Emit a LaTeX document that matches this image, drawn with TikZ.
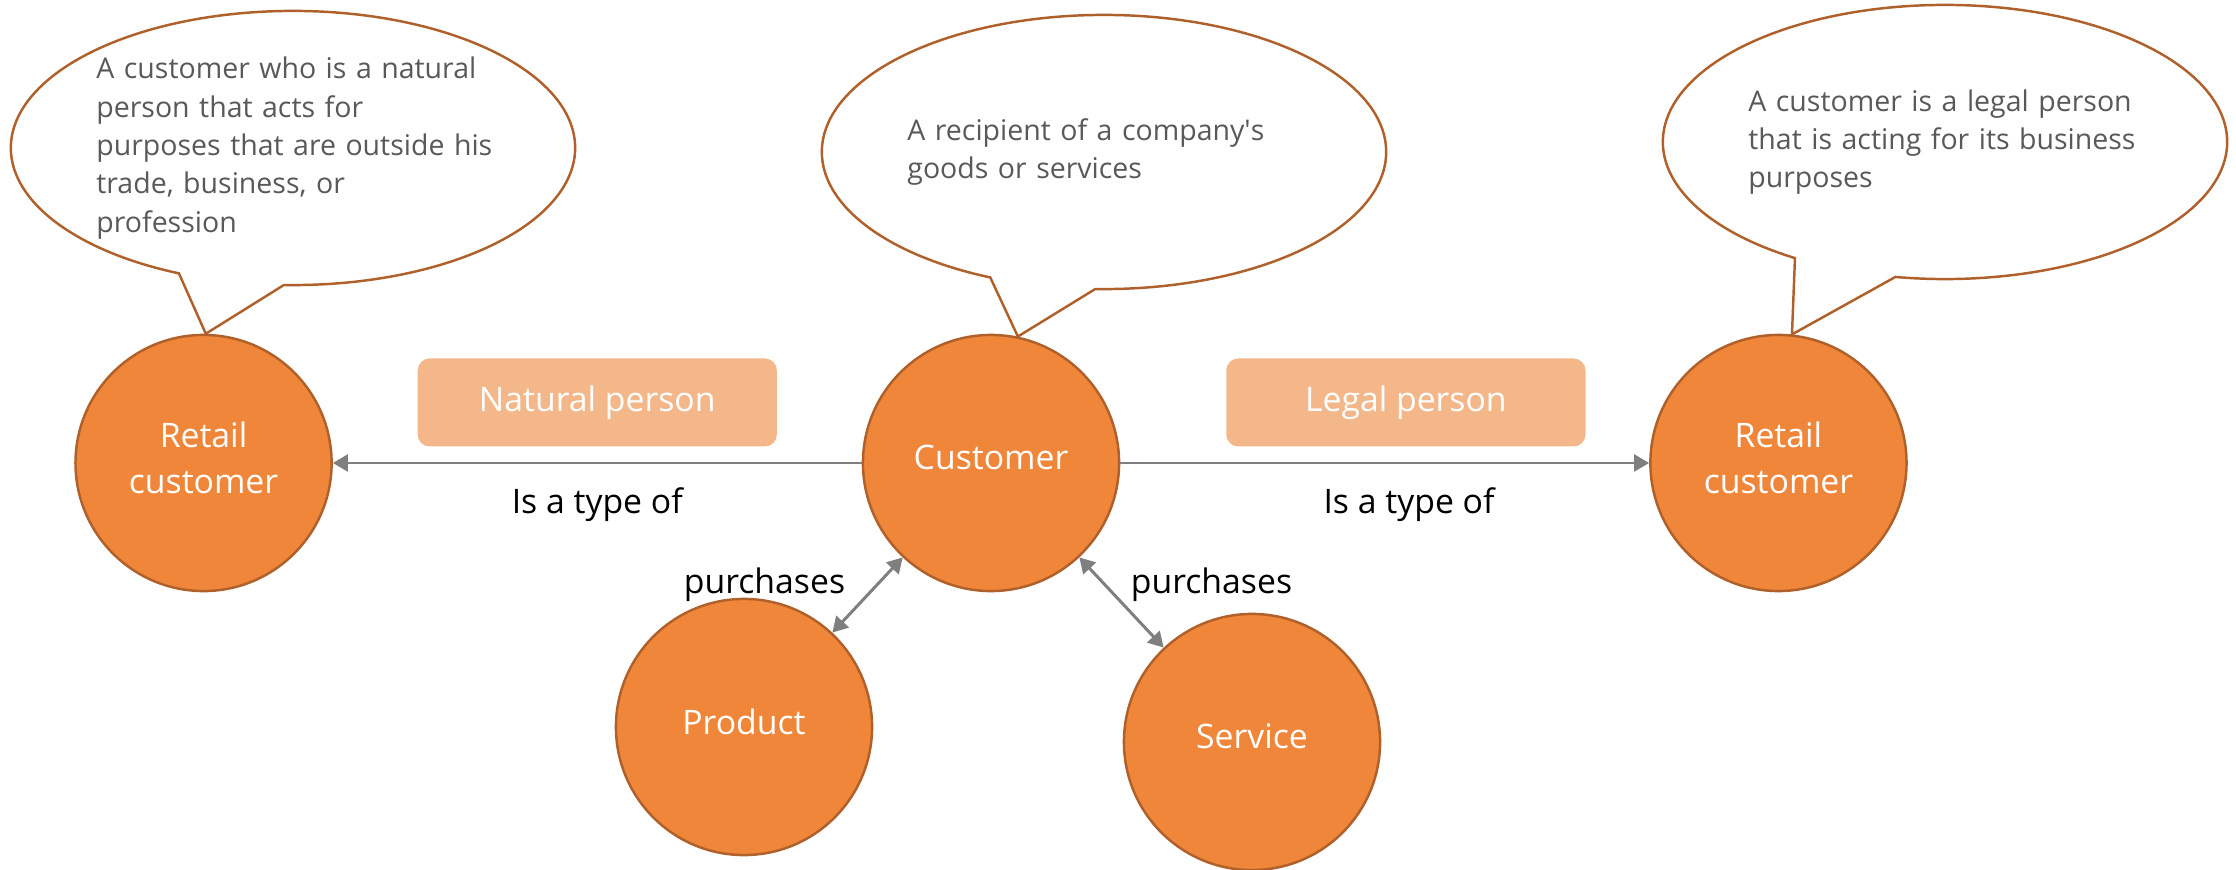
\documentclass[tikz,border=0pt]{standalone}
\usepackage{fontspec}
\setmainfont{Open Sans}
\usepackage{tikz}
\usetikzlibrary{positioning, arrows.meta, shapes.callouts, calc}

\definecolor{nodeorange}{HTML}{EF8639}
\definecolor{nodeedge}{HTML}{B0602A}
\definecolor{boxorange}{HTML}{F4B78A}
\definecolor{linkgray}{HTML}{7F7F7F}
\definecolor{notegray}{HTML}{595959}

\tikzset{
    concept/.style={circle, fill=nodeorange, draw=nodeedge, line width=0.7pt,
        minimum size=2.56cm, inner sep=0pt, text=white, align=center,
        text depth=0.32em, font=\fontsize{9.6}{13.1}\selectfont},
    note/.style={ellipse callout, draw=nodeedge, line width=0.7pt, fill=white,
        minimum width=5.64cm, minimum height=2.74cm, inner sep=0pt,
        text width=3.93cm, align=left, text=notegray,
        font=\fontsize{8.1}{10.9}\selectfont, callout pointer arc=22},
    kind/.style={rectangle, rounded corners=0.12cm, fill=boxorange, text=white,
        minimum width=3.59cm, minimum height=0.88cm,
        font=\fontsize{9.6}{12}\selectfont},
    tag/.style={text=black, font=\fontsize{9.6}{12}\selectfont},
    link/.style={draw=linkgray, line width=0.85pt,
        -{Triangle[length=4.3pt, width=4.8pt]}},
    twoway/.style={link, {Triangle[length=4.3pt, width=4.8pt]}-{Triangle[length=4.3pt, width=4.8pt]}}
}

\begin{document}
\begin{tikzpicture}[x=0.01cm, y=-0.01cm, node distance=7.87cm]
    \useasboundingbox (0,0) rectangle (2236,870);

    \node[concept] (cust) at (991,463) {Customer};
    \node[concept, left of=cust] (lret) {Retail\\customer};
    \node[concept, right of=cust] (rret) {Retail\\customer};
    \node[concept] (prod) at (744,727) {Product};
    \node[concept] (serv) at (1252,742) {Service};

    % definitions
    \node[note, callout absolute pointer={(lret.89)}] (lnote) at (293,148)
        {A customer who is a natural\\person that acts for\\\mbox{purposes that are outside his}\\trade, business, or\\profession};
    \node[note, callout absolute pointer={(cust.78)}] (cnote) at (1104,152)
        {A recipient of a company\textquotesingle s\\goods or services};
    \node[note, callout absolute pointer={(rret.84)}] (rnote) at (1945,142)
        {A customer is a legal person\\that is acting for its business\\purposes};

    \draw
        (cust) edge[link] node[kind, above=0.15cm] {Natural person}
                          node[tag, yshift=-0.42cm] {Is a type of} (lret)
        (cust) edge[link] node[kind, above=0.15cm, pos=0.54] {Legal person}
                          node[tag, yshift=-0.42cm, pos=0.546] {Is a type of} (rret)
        (prod) edge[twoway] node[tag, left=0.19cm, pos=0.64] {purchases} (cust)
        (cust) edge[twoway] node[tag, right=0.13cm, pos=0.3] {purchases} (serv)
        ;
\end{tikzpicture}
\end{document}
